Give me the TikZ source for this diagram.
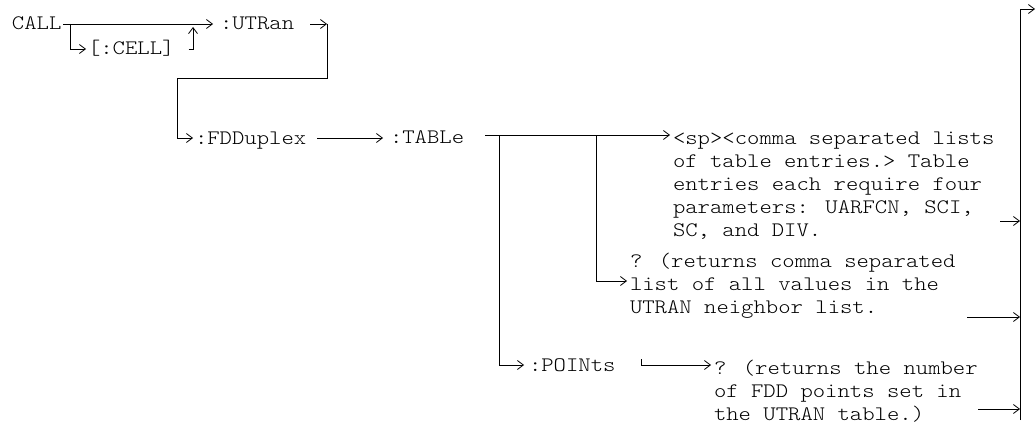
\documentclass[tikz,border=0pt]{standalone}
\usepackage{fontspec}
\usetikzlibrary{arrows.meta}
\newfontfamily\cmdfont{lmmonolt10-regular.otf}[FakeStretch=1.143]

\begin{document}
\begin{tikzpicture}[x=1pt, y=-1pt,
    arr/.style={-{Straight Barb[length=6pt,width=9pt]}, line width=0.8pt},
    kw/.style={font=\cmdfont\fontsize{20.6}{23}\selectfont, inner sep=0pt, outer sep=2pt,
      text height=12pt, text depth=0pt, anchor=west},
    note/.style={font=\cmdfont\fontsize{20.6}{23}\selectfont, inner sep=0pt, outer sep=3pt,
      align=left, anchor=north west}]
  \useasboundingbox (0,0) rectangle (1036,428);

  % Keywords
  \node[kw] (call) at (10,24) {CALL};
  \node[kw] (cell) at (86,49) {[:CELL]};
  \node[kw] (utran) at (218,24) {:UTRan};
  \node[kw] (fdd) at (193,138) {:FDDuplex};
  \node[kw] (table) at (388,137) {:TABLe};
  \node[kw] (points) at (527,365) {:POINts};

  % Parameter notes
  \node[note] (tabval) at (670,124.9) {\strut<sp><comma separated lists\\
    of table entries.> Table\\entries each require four\\
    parameters: UARFCN, SCI,\\SC, and DIV.};
  \node[note] (readback) at (627,247.9) {\strut? (returns comma separated\\
    list of all values in the\\UTRAN neighbor list.};
  \node[note] (pointsq) at (711,354.9) {\strut? (returns the number\\
    of FDD points set in\\the UTRAN table.)};

  % CALL to :UTRan, with the optional [:CELL]
  \coordinate (fork) at (70,24);
  \coordinate (join) at (193,27);
  \draw[arr, shorten >=5pt] (call.east) -- (utran.west);
  \draw[arr] (fork) |- (cell.west);
  \draw[arr, shorten <=12pt] (cell.east) -| (join);

  % :UTRan down to :FDDuplex
  \coordinate (drop) at (327,24);
  \coordinate (bend) at (177,78);
  \draw[arr, shorten <=14pt] (utran.east) -- (drop);
  \draw[arr] (drop) |- (bend) |- (fdd.west);
  \draw[arr, shorten <=9pt, shorten >=5pt] (fdd.east) -- (fdd.east -| table.west);

  % :TABLe branches
  \coordinate (tabfork) at (485,135);
  \coordinate (qfork) at (596,135);
  \coordinate (pfork) at (499,135);
  \draw[arr] (tabfork) -- ([yshift=-10.1pt]tabval.north west);
  \draw[arr] (qfork) |- ([yshift=-33.1pt]readback.north west);
  \draw[arr, shorten >=3pt] (pfork) |- (points.west);
  \coordinate (ptick) at (641,359);
  \draw[arr] (ptick) |- ([yshift=-10.1pt]pointsq.north west);

  % Right rail
  \coordinate (railtop) at (1020,9);
  \coordinate (railbot) at (1020,420);
  \draw[arr] (railbot) -- (railtop) -- ++(15,0);
  \coordinate (tabout) at (1000,221);
  \coordinate (readout) at (967,317);
  \coordinate (pointsout) at (978,409);
  \draw[arr] (tabout) -- (tabout -| railtop);
  \draw[arr] (readout) -- (readout -| railtop);
  \draw[arr] (pointsout) -- (pointsout -| railtop);
\end{tikzpicture}
\end{document}
